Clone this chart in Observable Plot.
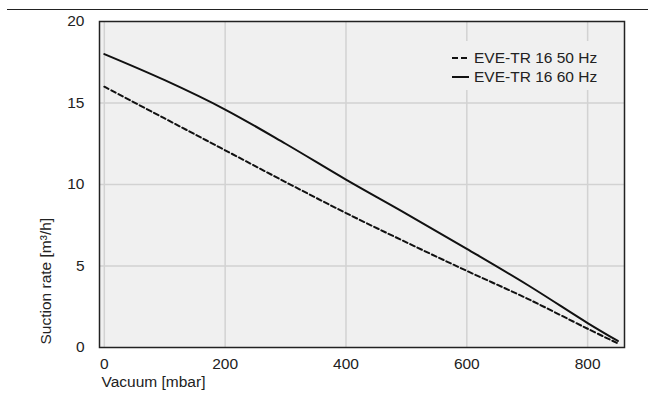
<!DOCTYPE html>
<html>
<head>
<meta charset="utf-8">
<script src="https://cdn.jsdelivr.net/npm/d3@7"></script>
<script src="https://cdn.jsdelivr.net/npm/@observablehq/plot@0.6"></script>
<style>
  html, body { margin: 0; padding: 0; background: #fff; }
  #wrap { position: relative; width: 648px; height: 403px; font-family: "Liberation Sans", Arial, sans-serif; color: #222; }
  #topline { position: absolute; left: 7px; right: 0; top: 9px; height: 0; border-top: 1px solid #222; }
  #legend { position: absolute; left: 444px; top: 41px; width: 172px; height: 49px; background: #f0f0f0; font-size: 15.5px; }
  .item { position: absolute; left: 8px; height: 18px; display: flex; align-items: center; white-space: nowrap; }
  .item svg { margin-right: 5px; }
</style>
</head>
<body>
<div id="wrap">
  <div id="topline"></div>
</div>
<script>
// Data
const vacuum50 = [0, 100, 200, 300, 400, 500, 600, 700, 800, 850];
const rate50   = [16.0, 14.05, 12.1, 10.15, 8.25, 6.45, 4.7, 3.0, 1.15, 0.25];
const vacuum60 = [0, 100, 200, 300, 400, 500, 600, 700, 800, 850];
const rate60   = [18.0, 16.4, 14.6, 12.5, 10.3, 8.2, 6.05, 3.85, 1.5, 0.4];
const seriesNames = ["EVE-TR 16 50 Hz", "EVE-TR 16 60 Hz"];
const xTicks = [0, 200, 400, 600, 800];
const yTicks = [0, 5, 10, 15, 20];
const xLabel = "Vacuum [mbar]";
const yLabel = "Suction rate [m³/h]";

const data50 = vacuum50.map((v, i) => ({x: v, y: rate50[i]}));
const data60 = vacuum60.map((v, i) => ({x: v, y: rate60[i]}));

const chart = Plot.plot({
  width: 648,
  height: 403,
  marginLeft: 99,
  marginRight: 24,
  marginTop: 21,
  marginBottom: 56,
  style: {fontFamily: "'Liberation Sans', Arial, sans-serif", fontSize: "15.5px", color: "#222", background: "transparent"},
  x: {domain: [-8, 861]},
  y: {domain: [0, 20]},
  marks: [
    Plot.frame({fill: "#f0f0f0", stroke: null}),
    Plot.gridX(xTicks, {stroke: "#d2d2d2", strokeOpacity: 1, strokeWidth: 1.5}),
    Plot.gridY(yTicks.slice(1, -1), {stroke: "#d2d2d2", strokeOpacity: 1, strokeWidth: 1.5}),
    Plot.line(data50, {x: "x", y: "y", stroke: "#111", strokeWidth: 2, strokeDasharray: "5,3", curve: "catmull-rom"}),
    Plot.line(data60, {x: "x", y: "y", stroke: "#111", strokeWidth: 2, curve: "catmull-rom"}),
    Plot.frame({stroke: "#222", strokeWidth: 1.5}),
    Plot.axisX(xTicks, {tickSize: 0, tickPadding: 10, label: null, fill: "#222"}),
    Plot.axisY(yTicks, {tickSize: 0, tickPadding: 15, label: null, fill: "#222"}),
    Plot.text([xLabel], {frameAnchor: "bottom-left", text: d => d, textAnchor: "start", dx: 2, dy: 39, fill: "#222"}),
    Plot.text([yLabel], {frameAnchor: "bottom-left", text: d => d, textAnchor: "start", rotate: -90, dx: -49, dy: -3, fill: "#222"})
  ]
});
document.getElementById("wrap").appendChild(chart);
chart.style.position = "absolute";
chart.style.left = "0";
chart.style.top = "0";

// Legend (HTML overlay, covers gridlines like the reference)
const legend = document.createElement("div");
legend.id = "legend";
seriesNames.forEach((name, i) => {
  const item = document.createElement("div");
  item.className = "item";
  item.style.top = (i === 0 ? 8 : 27) + "px";
  const dash = i === 0 ? "6,3" : "none";
  item.innerHTML = `<svg width="17" height="4"><line x1="0" x2="17" y1="2" y2="2" stroke="#111" stroke-width="2" stroke-dasharray="${dash}"/></svg><span>${name}</span>`;
  legend.appendChild(item);
});
document.getElementById("wrap").appendChild(legend);
</script>
</body>
</html>
